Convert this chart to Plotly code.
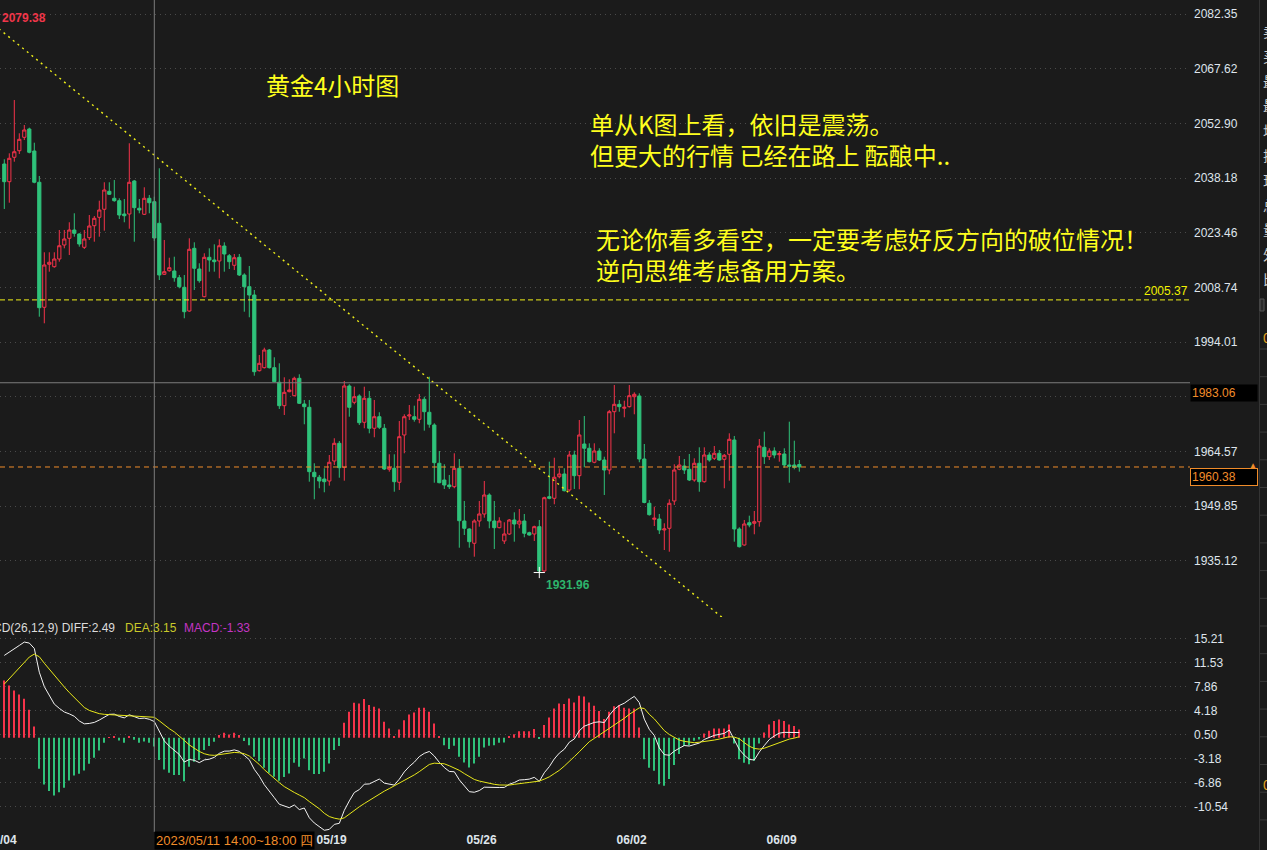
import plotly.graph_objects as go

W, H = 1267, 850

# ---- 4-hour gold candles (one entry per bar, oldest first) ----
OPEN = [
    2041.96, 2037.20, 2043.77, 2045.54, 2049.15, 2051.39, 2045.46, 2037.04, 2003.38, 2014.96,
    2014.31, 2016.38, 2020.15, 2021.96, 2024.19, 2023.12, 2019.53, 2022.12, 2025.35, 2027.61,
    2029.77, 2034.61, 2032.73, 2032.08, 2028.50, 2028.50, 2037.39, 2030.04, 2028.42, 2032.73,
    2031.81, 2026.00, 2012.26, 2013.23, 2013.15, 2011.35, 2008.76, 2002.38, 2019.26, 2013.69,
    2006.23, 2016.84, 2016.11, 2015.85, 2019.88, 2017.27, 2014.69, 2016.84, 2012.08, 2008.93,
    2006.69, 1986.31, 1987.12, 1991.88, 1987.12, 1983.19, 1976.89, 1980.66, 1979.58, 1984.26,
    1977.34, 1976.45, 1958.95, 1957.61, 1957.15, 1956.61, 1962.00, 1966.76, 1960.30, 1982.19,
    1977.80, 1979.50, 1972.42, 1978.88, 1970.80, 1973.92, 1970.80, 1959.76, 1960.03, 1956.26,
    1969.00, 1974.11, 1973.92, 1973.22, 1978.61, 1975.11, 1971.69, 1961.38, 1956.88, 1955.53,
    1955.08, 1960.03, 1945.84, 1943.69, 1939.84, 1945.84, 1947.73, 1952.84, 1945.84, 1944.04,
    1940.46, 1942.34, 1946.11, 1945.03, 1945.84, 1942.69, 1942.34, 1944.31, 1932.38, 1952.38,
    1951.95, 1957.77, 1958.50, 1954.19, 1963.61, 1958.04, 1966.57, 1965.42, 1961.65, 1964.69,
    1962.26, 1959.57, 1975.27, 1977.26, 1976.19, 1976.62, 1979.31, 1979.50, 1962.53, 1950.61,
    1946.30, 1946.38, 1943.42, 1943.87, 1951.23, 1959.76, 1960.65, 1959.76, 1956.88, 1961.38,
    1956.42, 1963.61, 1962.72, 1964.07, 1962.45, 1963.80, 1967.65, 1943.69, 1939.38, 1945.38,
    1945.22, 1945.65, 1965.68, 1963.15, 1964.69, 1963.69, 1963.88, 1960.92, 1960.92, 1961.05,
]
HIGH = [
    2043.23, 2044.84, 2059.19, 2050.23, 2052.46, 2051.74, 2047.70, 2038.73, 2018.19, 2018.19,
    2018.19, 2024.19, 2024.19, 2026.27, 2028.69, 2023.30, 2024.19, 2028.23, 2027.96, 2032.08,
    2037.04, 2037.04, 2037.65, 2032.73, 2032.54, 2047.54, 2037.65, 2032.54, 2035.69, 2033.62,
    2033.16, 2040.81, 2021.50, 2016.73, 2017.00, 2012.08, 2012.08, 2021.96, 2020.88, 2015.23,
    2017.92, 2019.26, 2020.34, 2021.69, 2020.88, 2017.73, 2017.73, 2017.73, 2012.53, 2014.50,
    2008.04, 1990.54, 1992.50, 1992.15, 1989.92, 1988.30, 1984.53, 1983.99, 1984.69, 1985.34,
    1978.42, 1978.42, 1961.38, 1958.23, 1960.03, 1963.61, 1968.11, 1967.38, 1983.54, 1982.65,
    1982.00, 1979.95, 1982.00, 1980.84, 1978.42, 1975.11, 1971.96, 1963.80, 1963.80, 1972.76,
    1974.57, 1977.07, 1976.89, 1980.03, 1979.31, 1984.69, 1972.15, 1964.69, 1961.11, 1958.23,
    1964.07, 1962.53, 1951.23, 1943.87, 1946.30, 1951.23, 1956.61, 1953.30, 1951.23, 1946.84,
    1945.49, 1946.38, 1948.18, 1949.07, 1947.73, 1942.96, 1944.58, 1946.11, 1952.38, 1961.81,
    1962.88, 1960.03, 1960.03, 1964.69, 1964.77, 1973.03, 1974.11, 1966.76, 1966.76, 1965.42,
    1963.15, 1975.73, 1982.46, 1978.42, 1978.23, 1982.46, 1980.49, 1980.22, 1966.57, 1951.49,
    1949.69, 1947.73, 1945.22, 1951.68, 1961.11, 1963.34, 1962.53, 1963.88, 1962.72, 1965.68,
    1965.68, 1964.34, 1966.03, 1964.96, 1963.88, 1969.45, 1968.73, 1944.15, 1946.11, 1947.27,
    1948.53, 1967.92, 1969.89, 1965.42, 1965.68, 1964.69, 1965.42, 1972.58, 1967.46, 1962.26,
]
LOW = [
    2029.85, 2031.54, 2042.58, 2044.66, 2048.42, 2044.84, 2036.77, 2000.85, 1999.07, 2012.97,
    2014.04, 2015.66, 2019.26, 2017.46, 2022.39, 2019.70, 2019.08, 2021.50, 2021.04, 2022.39,
    2024.00, 2033.62, 2031.81, 2027.15, 2026.27, 2024.54, 2021.04, 2028.69, 2028.23, 2028.69,
    2021.23, 2010.73, 2012.08, 2012.97, 2010.27, 2008.49, 2000.42, 2002.19, 2008.04, 2010.00,
    2006.07, 2012.97, 2012.97, 2011.19, 2012.97, 2013.69, 2013.42, 2011.81, 2002.19, 2000.69,
    1984.96, 1986.10, 1986.90, 1986.90, 1983.19, 1976.00, 1974.38, 1980.50, 1979.40, 1977.34,
    1971.88, 1956.42, 1951.68, 1954.65, 1953.57, 1955.35, 1960.92, 1957.50, 1956.69, 1973.92,
    1977.26, 1971.69, 1970.80, 1969.45, 1968.38, 1970.60, 1959.57, 1959.12, 1953.73, 1954.19,
    1964.07, 1973.03, 1972.58, 1972.15, 1970.16, 1970.96, 1956.15, 1955.99, 1954.46, 1954.46,
    1954.65, 1938.65, 1942.07, 1938.65, 1936.23, 1944.31, 1946.73, 1943.87, 1938.30, 1943.87,
    1939.65, 1942.07, 1940.27, 1943.87, 1941.45, 1941.90, 1940.46, 1931.96, 1932.20, 1951.70,
    1950.34, 1957.34, 1953.80, 1953.73, 1954.46, 1954.38, 1960.30, 1961.60, 1961.38, 1962.00,
    1952.84, 1958.42, 1969.45, 1975.27, 1973.76, 1976.40, 1974.57, 1961.65, 1950.60, 1947.30,
    1944.49, 1942.34, 1938.03, 1937.57, 1950.15, 1959.50, 1958.50, 1956.60, 1956.42, 1953.73,
    1956.15, 1961.81, 1962.26, 1962.08, 1954.65, 1956.69, 1940.27, 1938.70, 1939.20, 1944.15,
    1942.26, 1944.31, 1961.19, 1962.26, 1962.72, 1961.81, 1960.19, 1956.15, 1959.76, 1959.12,
]
CLOSE = [
    2037.20, 2043.50, 2045.27, 2048.61, 2051.12, 2045.11, 2037.04, 2003.27, 2014.77, 2015.50,
    2016.38, 2019.96, 2021.77, 2024.19, 2023.30, 2020.42, 2021.77, 2025.27, 2027.34, 2029.58,
    2034.96, 2033.80, 2032.08, 2028.23, 2028.04, 2037.04, 2030.20, 2029.58, 2032.73, 2031.54,
    2022.04, 2012.08, 2012.97, 2014.04, 2011.35, 2008.93, 2002.19, 2019.00, 2013.88, 2010.54,
    2016.84, 2016.11, 2015.66, 2019.96, 2017.73, 2015.66, 2016.73, 2012.08, 2008.93, 2006.69,
    1986.04, 1988.30, 1991.88, 1987.12, 1983.35, 1976.89, 1980.49, 1981.11, 1984.26, 1977.53,
    1976.62, 1959.12, 1957.77, 1956.61, 1956.42, 1961.65, 1966.76, 1960.19, 1982.19, 1976.45,
    1979.31, 1972.31, 1978.88, 1970.80, 1973.92, 1971.07, 1959.84, 1960.19, 1956.42, 1968.54,
    1973.92, 1974.38, 1973.22, 1978.61, 1975.27, 1971.88, 1961.54, 1956.15, 1955.53, 1955.08,
    1960.03, 1945.92, 1943.87, 1940.27, 1945.84, 1947.73, 1952.84, 1945.84, 1944.04, 1945.84,
    1942.34, 1946.11, 1945.03, 1945.84, 1942.53, 1942.07, 1944.31, 1932.38, 1952.11, 1951.95,
    1957.61, 1958.50, 1954.00, 1963.61, 1958.04, 1969.00, 1965.42, 1961.81, 1964.69, 1962.26,
    1959.57, 1975.27, 1977.26, 1976.62, 1976.45, 1979.58, 1979.95, 1962.53, 1950.82, 1947.54,
    1946.57, 1943.42, 1943.69, 1950.61, 1959.57, 1960.92, 1959.57, 1956.88, 1961.38, 1956.42,
    1963.61, 1962.26, 1964.07, 1962.26, 1963.53, 1967.84, 1943.69, 1938.92, 1945.03, 1944.76,
    1945.65, 1966.03, 1963.15, 1964.69, 1963.61, 1963.96, 1960.92, 1960.57, 1960.30, 1960.38,
]

# ---- MACD(26,12,9) ----
DIFF = [
    12.65, 13.12, 13.64, 14.18, 14.70, 14.55, 13.72, 10.07, 7.86, 6.40,
    5.17, 4.52, 3.96, 3.67, 3.30, 2.58, 2.14, 2.20, 2.36, 2.72,
    3.21, 3.60, 3.63, 3.27, 3.06, 3.53, 3.25, 2.96, 3.02, 2.84,
    2.49, 0.88, -0.48, -1.29, -1.97, -2.57, -3.73, -3.33, -3.45, -3.82,
    -3.40, -3.29, -3.01, -2.39, -2.06, -2.04, -1.86, -2.09, -2.71, -3.37,
    -4.85, -5.90, -7.21, -8.29, -9.20, -10.21, -10.52, -10.74, -10.32, -11.03,
    -10.79, -12.29, -13.09, -13.69, -14.21, -14.07, -13.30, -13.14, -11.15, -9.70,
    -8.41, -7.96, -7.13, -7.09, -6.72, -6.34, -6.97, -7.08, -7.27, -6.36,
    -5.24, -4.41, -3.75, -2.89, -2.39, -2.10, -2.80, -3.77, -4.57, -5.17,
    -5.22, -6.46, -7.40, -8.28, -8.37, -8.11, -7.59, -7.62, -7.72, -7.64,
    -7.63, -7.14, -6.87, -6.49, -6.44, -6.35, -6.08, -6.70, -5.37, -4.44,
    -3.24, -2.36, -1.76, -0.68, -0.18, 1.08, 1.78, 2.12, 2.36, 2.45,
    2.34, 3.45, 4.38, 4.96, 5.31, 5.86, 6.36, 5.40, 2.86, 1.29,
    0.36, -1.56, -2.59, -2.68, -2.05, -1.61, -1.19, -1.27, -0.99, -0.81,
    -0.26, 0.09, 0.37, 0.52, 0.67, 1.19, -0.34, -1.79, -2.67, -3.33,
    -3.41, -2.18, -1.19, -0.27, 0.28, 0.71, 0.83, 0.83, 0.85, 0.80,
]
DEA = [
    8.25, 9.10, 10.00, 10.85, 11.70, 12.40, 12.85, 12.45, 11.45, 10.50,
    9.60, 8.70, 7.80, 6.95, 6.20, 5.35, 4.65, 4.20, 3.90, 3.70,
    3.60, 3.55, 3.50, 3.47, 3.45, 3.43, 3.40, 3.35, 3.30, 3.23,
    3.15, 2.60, 1.95, 1.40, 0.90, 0.30, -0.40, -1.10, -1.60, -2.10,
    -2.45, -2.65, -2.70, -2.60, -2.45, -2.30, -2.25, -2.30, -2.45, -2.80,
    -3.40, -4.10, -4.90, -5.60, -6.20, -6.90, -7.50, -8.00, -8.40, -8.80,
    -9.20, -9.80, -10.30, -10.90, -11.60, -12.10, -12.35, -12.50, -12.30, -11.70,
    -11.10, -10.60, -10.10, -9.60, -9.10, -8.60, -8.20, -7.80, -7.40, -7.00,
    -6.60, -6.20, -5.70, -5.20, -4.70, -4.10, -3.90, -3.90, -4.00, -4.30,
    -4.60, -5.00, -5.50, -6.00, -6.40, -6.65, -6.85, -7.00, -7.15, -7.25,
    -7.27, -7.27, -7.15, -7.00, -6.95, -6.86, -6.75, -6.65, -6.35, -6.00,
    -5.50, -5.00, -4.35, -3.70, -2.90, -2.15, -1.40, -0.60, -0.10, 0.40,
    0.90, 1.45, 1.95, 2.45, 3.00, 3.60, 4.10, 4.60, 4.50, 3.60,
    2.90, 2.00, 1.10, 0.50, 0.05, -0.35, -0.55, -0.70, -0.76, -0.68,
    -0.60, -0.45, -0.35, -0.20, -0.05, 0.16, 0.10, -0.15, -0.75, -1.30,
    -1.64, -1.74, -1.60, -1.30, -1.00, -0.70, -0.45, -0.20, -0.05, 0.16,
]
MACD_HIST = [
    8.80, 8.03, 7.27, 6.65, 5.99, 4.30, 1.74, -4.76, -7.17, -8.19,
    -8.86, -8.35, -7.68, -6.55, -5.79, -5.53, -5.02, -3.99, -3.07, -1.95,
    -0.77, 0.10, 0.26, -0.40, -0.77, 0.20, -0.30, -0.77, -0.56, -0.77,
    -1.33, -3.43, -4.86, -5.38, -5.73, -5.73, -6.66, -4.45, -3.69, -3.43,
    -1.89, -1.28, -0.61, 0.41, 0.77, 0.51, 0.77, 0.41, -0.51, -1.13,
    -2.90, -3.60, -4.61, -5.38, -5.99, -6.61, -6.04, -5.48, -3.84, -4.45,
    -3.17, -4.97, -5.58, -5.58, -5.22, -3.94, -1.89, -1.28, 2.30, 3.99,
    5.38, 5.27, 5.94, 5.02, 4.76, 4.51, 2.46, 1.43, 0.26, 1.28,
    2.71, 3.58, 3.89, 4.61, 4.61, 3.99, 2.20, 0.26, -1.13, -1.74,
    -1.23, -2.92, -3.79, -4.56, -3.94, -2.92, -1.48, -1.23, -1.13, -0.77,
    -0.72, 0.26, 0.56, 1.02, 1.02, 1.02, 1.33, -0.10, 1.95, 3.12,
    4.51, 5.27, 5.17, 6.04, 5.43, 6.45, 6.35, 5.43, 4.92, 4.10,
    2.87, 3.99, 4.86, 5.02, 4.61, 4.51, 4.51, 1.59, -3.28, -4.61,
    -5.07, -7.12, -7.37, -6.35, -4.20, -2.51, -1.28, -1.13, -0.46, -0.26,
    0.67, 1.08, 1.43, 1.43, 1.43, 2.05, -0.87, -3.28, -3.84, -4.05,
    -3.53, -0.87, 0.82, 2.05, 2.56, 2.82, 2.56, 2.05, 1.79, 1.28,
]

# axis labels (the 1979.29 level keeps its grid line; its label sits under the cursor price box)
PRICE_TICKS = [2082.35, 2067.62, 2052.90, 2038.18, 2023.46, 2008.74,
               1994.01, 1979.29, 1964.57, 1949.85, 1935.12]
PRICE_TICK_HIDDEN = [1979.29]
MACD_TICKS = [15.21, 11.53, 7.86, 4.18, 0.50, -3.18, -6.86, -10.54]
DATE_LABELS = ["05/04", "05/19", "05/26", "06/02", "06/09"]
DATE_POS = [-0.55, 65.45, 95.45, 125.45, 155.45]

# marked levels and drawn objects
PERIOD_HIGH = 2079.38
PERIOD_LOW = 1931.96
LOW_BAR = 107
RESIST_LEVEL = 2005.37
LAST_PRICE = CLOSE[-1]
CURSOR_BAR = 30
CURSOR_PRICE = 1983.06
CURSOR_TIME = "2023/05/11 14:00~18:00 四"
TREND_X = [-2, 150]
TREND_Y = [2079.38, 1912.83]

NOTE_TITLE = "黄金4小时图"
NOTE_A = ["单从K图上看，依旧是震荡。", "但更大的行情 已经在路上 酝酿中.."]
NOTE_B = ["无论你看多看空，一定要考虑好反方向的破位情况！", "逆向思维考虑备用方案。"]
SIDE_CHARS = ["卖", "买", "最", "最", "均", "振", "现", "总", "量", "外", "比"]

# ---- styling ----
BG = "#1b1b1b"
UP = "#f5334a"
DOWN = "#2fc27a"
GRID = "#4a4a4a"
AXIS_TXT = "#dfe5ec"
YELLOW = "#ffff1e"
ORANGE = "#f08c2a"
BASE_FONT = "Liberation Sans, Arial, sans-serif"
CJK_FONT = "Noto Sans CJK SC, sans-serif"

PLOT_RIGHT = 1188          # right edge of the chart area in px
PX_PER_BAR = 5
X_MIN = -0.86
X_MAX = X_MIN + PLOT_RIGHT / PX_PER_BAR
PRICE_RANGE = [1919.99, 2086.12]
MACD_RANGE = [-14.32, 18.09]


def px(x):
    return x / W


def py(y):
    return 1 - y / H


idx = list(range(len(CLOSE)))

fig = go.Figure()

fig.add_trace(go.Candlestick(
    x=idx, open=OPEN, high=HIGH, low=LOW, close=CLOSE,
    increasing=dict(line=dict(color=UP, width=1), fillcolor=BG),
    decreasing=dict(line=dict(color=DOWN, width=1), fillcolor=DOWN),
    whiskerwidth=0, hoverinfo="skip", showlegend=False,
    xaxis="x", yaxis="y",
))

# marker on the period low
fig.add_trace(go.Scatter(
    x=[LOW_BAR], y=[PERIOD_LOW], mode="markers",
    marker=dict(symbol="cross-thin", size=8, line=dict(color="#ffffff", width=1)),
    hoverinfo="skip", showlegend=False, xaxis="x", yaxis="y",
))

# MACD histogram and lines
fig.add_trace(go.Bar(
    x=idx, y=MACD_HIST, width=0.2,
    marker=dict(color=[UP if v >= 0 else DOWN for v in MACD_HIST], line=dict(width=0)),
    hoverinfo="skip", showlegend=False, xaxis="x2", yaxis="y2",
))
fig.add_trace(go.Scatter(
    x=idx, y=DIFF, mode="lines", line=dict(color="#f2f2f2", width=1),
    hoverinfo="skip", showlegend=False, xaxis="x2", yaxis="y2",
))
fig.add_trace(go.Scatter(
    x=idx, y=DEA, mode="lines", line=dict(color="#e8e81a", width=1),
    hoverinfo="skip", showlegend=False, xaxis="x2", yaxis="y2",
))

XD = PLOT_RIGHT / W
axis_common = dict(
    side="right", showline=False, zeroline=False, ticks="",
    ticklabelstandoff=5, showgrid=True, gridcolor=GRID, griddash="1px,4px",
    gridwidth=1, tickfont=dict(family=BASE_FONT, size=12, color=AXIS_TXT),
    fixedrange=True,
)

fig.update_layout(
    width=W, height=H,
    margin=dict(l=0, r=0, t=0, b=0, pad=0, autoexpand=False),
    paper_bgcolor=BG, plot_bgcolor=BG,
    showlegend=False, hovermode=False, dragmode=False,
    boxgap=0.2, boxgroupgap=0.2,
    font=dict(family=BASE_FONT, color=AXIS_TXT),
    xaxis=dict(domain=[0, XD], range=[X_MIN, X_MAX], anchor="y",
               showticklabels=False, showgrid=False, zeroline=False,
               showline=False, ticks="", rangeslider=dict(visible=False),
               fixedrange=True),
    yaxis=dict(domain=[py(617), 1], range=PRICE_RANGE, anchor="x",
               tickvals=PRICE_TICKS,
               ticktext=["" if v in PRICE_TICK_HIDDEN else f"{v:.2f}" for v in PRICE_TICKS],
               **axis_common),
    xaxis2=dict(domain=[0, XD], range=[X_MIN, X_MAX], anchor="y2", matches="x",
                tickvals=DATE_POS, ticktext=DATE_LABELS, ticks="",
                tickfont=dict(family=BASE_FONT, size=12, color=AXIS_TXT, weight="bold"),
                ticklabeloverflow="allow",
                showgrid=False, zeroline=False, showline=False, fixedrange=True),
    yaxis2=dict(domain=[py(831), py(620)], range=MACD_RANGE, anchor="x2",
                tickvals=MACD_TICKS, ticktext=[f"{v:.2f}" for v in MACD_TICKS],
                **axis_common),
)

shapes = [
    # falling trend line from the period high
    dict(type="line", xref="x", yref="y", x0=TREND_X[0], y0=TREND_Y[0],
         x1=TREND_X[1], y1=TREND_Y[1], line=dict(color="#eded1a", width=1.4, dash="2px,4px")),
    # resistance level
    dict(type="line", xref="paper", yref="y", x0=0, x1=px(1190), y0=RESIST_LEVEL,
         y1=RESIST_LEVEL, line=dict(color="#f2f21a", width=1, dash="5px,3px")),
    # last price
    dict(type="line", xref="paper", yref="y", x0=0, x1=px(1190), y0=LAST_PRICE,
         y1=LAST_PRICE, line=dict(color=ORANGE, width=1, dash="5px,4px")),
    # cursor cross-hair
    dict(type="line", xref="paper", yref="y", x0=0, x1=px(1190), y0=CURSOR_PRICE,
         y1=CURSOR_PRICE, line=dict(color="#7c7c7c", width=1)),
    dict(type="line", xref="x", yref="paper", x0=CURSOR_BAR, x1=CURSOR_BAR,
         y0=py(832), y1=1, line=dict(color="#7c7c7c", width=1)),
    # side quote panel border
    dict(type="line", xref="paper", yref="paper", x0=px(1259.5), x1=px(1259.5),
         y0=0, y1=1, line=dict(color="#343434", width=1)),
    dict(type="rect", xref="paper", yref="paper", x0=px(1260), x1=px(1264),
         y0=py(311), y1=py(299), line=dict(color="#555555", width=1), fillcolor="#2a2a2a"),
]
k = 0
while 349 + 27.7 * k < 830:
    yy = 349 + 27.7 * k
    shapes.append(dict(type="line", xref="paper", yref="paper", x0=px(1260), x1=1,
                       y0=py(yy), y1=py(yy), line=dict(color="#3a3a3a", width=1)))
    k += 1
fig.update_layout(shapes=shapes)

ann = []
# period extremes
ann.append(dict(xref="paper", yref="paper", x=px(0), y=py(18), xanchor="left",
                yanchor="middle", text=f"{PERIOD_HIGH:.2f}", showarrow=False,
                font=dict(family=BASE_FONT, size=12, color="#f0364a", weight="bold")))
ann.append(dict(xref="x", yref="y", x=LOW_BAR, y=PERIOD_LOW, xshift=5, yshift=-3,
                xanchor="left", yanchor="top", text=f"{PERIOD_LOW:.2f}", showarrow=False,
                font=dict(family=BASE_FONT, size=12, color="#2db56c", weight="bold")))

# commentary (two-line blocks keep the library's own line spacing)
note_font = dict(family=CJK_FONT, size=24, color=YELLOW)
ann.append(dict(xref="paper", yref="paper", x=px(264), y=py(84), xanchor="left",
                yanchor="middle", text=NOTE_TITLE, showarrow=False, font=note_font))
ann.append(dict(xref="paper", yref="paper", x=px(588), y=py(139.5), xanchor="left",
                yanchor="middle", align="left", text="<br>".join(NOTE_A),
                showarrow=False, font=note_font))
ann.append(dict(xref="paper", yref="paper", x=px(594), y=py(254), xanchor="left",
                yanchor="middle", align="left", text="<br>".join(NOTE_B),
                showarrow=False, font=note_font))

# level labels on the price axis
ann.append(dict(xref="paper", yref="y", x=px(1190), y=RESIST_LEVEL, xanchor="right",
                yanchor="bottom", text=f"{RESIST_LEVEL:.2f}", showarrow=False,
                font=dict(family=BASE_FONT, size=12, color="#f0f000")))
ann.append(dict(xref="paper", yref="y", x=px(1190), y=CURSOR_PRICE, xanchor="left",
                yanchor="top", yshift=-1, text=f"{CURSOR_PRICE:.2f}", showarrow=False,
                width=64, height=14, align="left", bgcolor="#000000", borderpad=1,
                font=dict(family=BASE_FONT, size=12, color=ORANGE)))
ann.append(dict(xref="paper", yref="y", x=px(1190), y=LAST_PRICE, xanchor="left",
                yanchor="top", yshift=-1, text=f"{LAST_PRICE:.2f}", showarrow=False,
                width=64, height=14, align="left", bgcolor="#000000", borderpad=1,
                bordercolor=ORANGE, borderwidth=1,
                font=dict(family=BASE_FONT, size=12, color=ORANGE)))
ann.append(dict(xref="paper", yref="paper", x=px(1253), y=py(465), xanchor="center",
                yanchor="middle", text="▲", showarrow=False,
                font=dict(family=BASE_FONT, size=8, color=ORANGE)))

# cursor time label
ann.append(dict(xref="x", yref="paper", x=CURSOR_BAR, y=py(840.5), xanchor="left",
                yanchor="middle", text=CURSOR_TIME, showarrow=False,
                bgcolor="#000000", borderpad=1,
                font=dict(family=BASE_FONT, size=13, color=ORANGE)))

# MACD readout at the cursor bar
ann.append(dict(xref="paper", yref="paper", x=px(-26.7), y=py(628), xanchor="left",
                yanchor="middle", showarrow=False,
                text=f"MACD(26,12,9) DIFF:{DIFF[CURSOR_BAR]:.2f}",
                font=dict(family=BASE_FONT, size=12, color="#dcdcdc")))
ann.append(dict(xref="paper", yref="paper", x=px(123), y=py(628), xanchor="left",
                yanchor="middle", showarrow=False, text=f"DEA:{DEA[CURSOR_BAR]:.2f}",
                font=dict(family=BASE_FONT, size=12, color="#c9c92a")))
ann.append(dict(xref="paper", yref="paper", x=px(182), y=py(628), xanchor="left",
                yanchor="middle", showarrow=False,
                text=f"MACD:{MACD_HIST[CURSOR_BAR]:.2f}",
                font=dict(family=BASE_FONT, size=12, color="#c435c4")))

# side quote panel (cut off at the window edge)
for j, ch in enumerate(SIDE_CHARS):
    ann.append(dict(xref="paper", yref="paper", x=px(1261), y=py(31 + 24.8 * j),
                    xanchor="left", yanchor="middle", text=ch, showarrow=False,
                    font=dict(family=CJK_FONT, size=14, color="#cfcfcf")))
for yy in (338, 785):
    ann.append(dict(xref="paper", yref="paper", x=px(1261), y=py(yy),
                    xanchor="left", yanchor="middle", text="0", showarrow=False,
                    font=dict(family=BASE_FONT, size=14, color="#e0a020")))

fig.update_layout(annotations=ann)

fig.write_html("out.html", config={"displayModeBar": False})
